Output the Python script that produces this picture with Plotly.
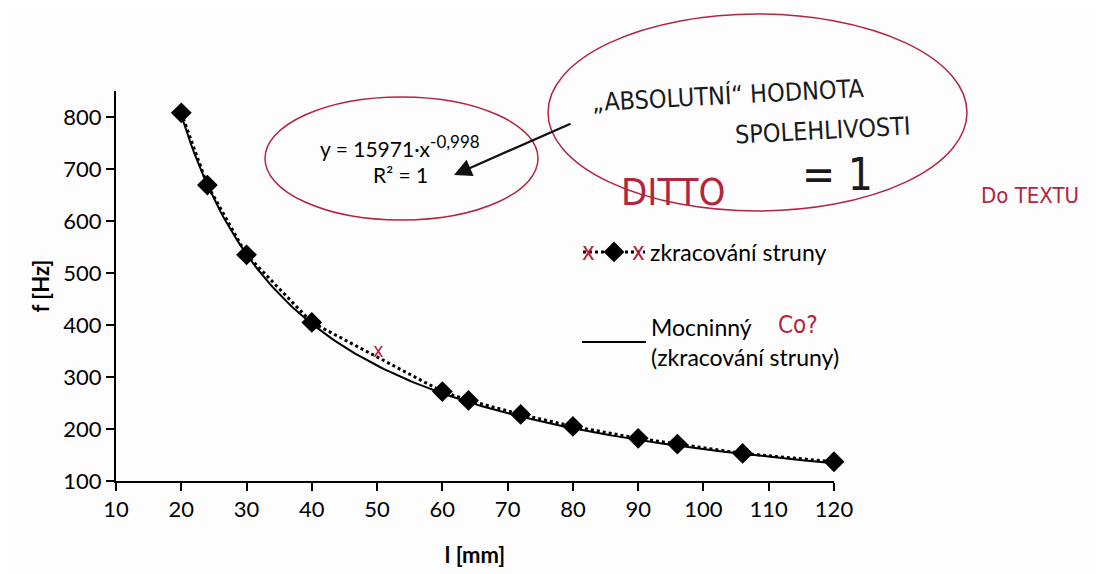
import plotly.graph_objects as go
import numpy as np

# ---- data ----
length_mm = [20, 24, 30, 40, 60, 64, 72, 80, 90, 96, 106, 120]
freq_hz = [808, 669, 535, 405, 272, 255, 228, 205, 182, 171, 153, 137]
fit_coef = 15971
fit_exp = -0.998
x_ticks = [10, 20, 30, 40, 50, 60, 70, 80, 90, 100, 110, 120]
y_ticks = [100, 200, 300, 400, 500, 600, 700, 800]

# page body has an 8 px margin: lay out in reference pixels, then shift
OFF = 8
W, H = 1098 - OFF, 574 - OFF
L, R, T, B = 116 - OFF, 834 - OFF, 91 - OFF, 481 - OFF   # plot area


def px(x):
    return (x - OFF - L) / (R - L)


def py(y):
    return (B - (y - OFF)) / (B - T)


FONT = "Lato, 'Open Sans', sans-serif"
HAND = "'DejaVu Sans Condensed', 'DejaVu Sans', sans-serif"
RED = "#b3243f"
INK = "#1a1a1a"

xs_fit = np.linspace(min(length_mm), max(length_mm), 200)
ys_fit = fit_coef * xs_fit ** fit_exp

fig = go.Figure()
fig.add_trace(go.Scatter(
    x=length_mm, y=freq_hz, mode="lines+markers", name="zkracování struny",
    line=dict(color="black", width=3, dash="dot"),
    marker=dict(symbol="diamond", size=16, color="black"),
    cliponaxis=False, legend="legend",
))
fig.add_trace(go.Scatter(
    x=xs_fit, y=ys_fit, mode="lines", name="Mocninný<br>(zkracování struny)",
    line=dict(color="black", width=2), cliponaxis=False, legend="legend2",
))


def note(x, y, text, size, color, family=HAND, angle=0):
    return dict(x=px(x), y=py(y), xref="paper", yref="paper", text=text,
                showarrow=False, xanchor="center", yanchor="middle",
                textangle=angle, font=dict(family=family, size=size, color=color))


annotations = [
    note(400, 146, "y = 15971·x<sup><span style='font-size:17px'>-0,998</span></sup>",
         21, "black", FONT),
    note(400, 174, "R² = 1", 21, "black", FONT),
    # handwritten notes
    note(728, 96, "„ABSOLUTNÍ“ HODNOTA", 25, INK, angle=-3),
    note(823, 131, "SPOLEHLIVOSTI", 25, INK, angle=-3),
    note(838, 174, "= 1", 44, INK),
    note(673, 192, "DITTO", 38, RED),
    note(1030, 195, "Do TEXTU", 22, RED),
    note(798, 325, "Co?", 24, RED),
    note(378, 350, "x", 20, RED),
    note(588, 252, "x", 24, RED),
    note(638, 252, "x", 24, RED),
    # arrow from bubble to equation
    dict(x=px(454), y=py(175), ax=572 - 454, ay=123 - 175,
         xref="paper", yref="paper", axref="pixel", ayref="pixel",
         text="", showarrow=True, arrowhead=2, arrowsize=1.6, arrowwidth=2.2,
         arrowcolor="#111111"),
]

shapes = [
    dict(type="circle", xref="paper", yref="paper",
         x0=px(265), x1=px(538), y0=py(220), y1=py(97),
         line=dict(color=RED, width=1.5)),
    dict(type="circle", xref="paper", yref="paper",
         x0=px(548), x1=px(967), y0=py(211), y1=py(14),
         line=dict(color=RED, width=1.5)),
]

fig.update_layout(
    width=W, height=H,
    margin=dict(l=L, r=W - R, t=T, b=H - B, autoexpand=False),
    paper_bgcolor="#fdfdfd", plot_bgcolor="#fdfdfd",
    font=dict(family=FONT, size=22, color="black"),
    showlegend=True,
    legend=dict(x=px(578), y=py(252), xanchor="left", yanchor="middle",
                bgcolor="rgba(0,0,0,0)", font=dict(size=23), itemwidth=62),
    legend2=dict(x=px(577), y=py(342), xanchor="left", yanchor="middle",
                 bgcolor="rgba(0,0,0,0)", font=dict(size=23), itemwidth=64),
    annotations=annotations,
    shapes=shapes,
)
fig.update_xaxes(
    range=[10, 120], tickvals=x_ticks, showgrid=False, zeroline=False,
    showline=True, linecolor="black", linewidth=2, automargin=False,
    ticks="outside", ticklen=8, tickwidth=2, tickcolor="black",
    tickfont=dict(size=22),
    title=dict(text="<b>l [mm]</b>", font=dict(size=22), standoff=26),
)
fig.update_yaxes(
    range=[100, 850], tickvals=y_ticks, showgrid=False, zeroline=False,
    showline=True, linecolor="black", linewidth=2, automargin=False,
    ticks="outside", ticklen=8, tickwidth=2, tickcolor="black",
    tickfont=dict(size=22),
    title=dict(text="<b>f [Hz]</b>", font=dict(size=22), standoff=8),
)

fig.write_html("out.html")
